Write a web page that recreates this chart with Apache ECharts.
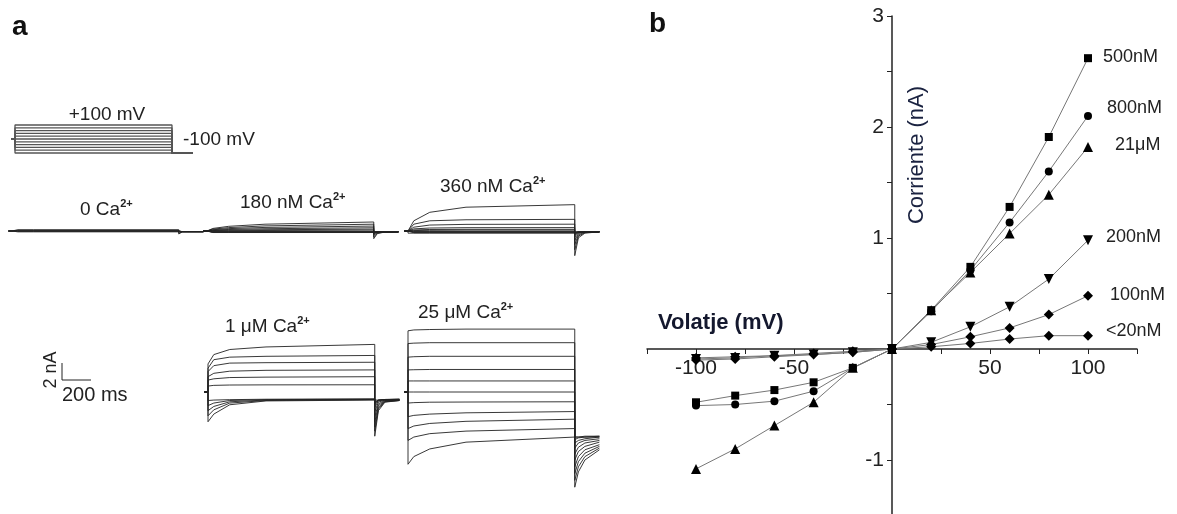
<!DOCTYPE html>
<html>
<head>
<meta charset="utf-8">
<script src="https://cdn.jsdelivr.net/npm/echarts@6/dist/echarts.min.js"></script>
<style>
html,body{margin:0;padding:0;background:#fff;}
#chart{width:1177px;height:514px;}
</style>
</head>
<body>
<div id="chart"></div>
<script>
// panel b : I-V curves
var voltages = [-100, -80, -60, -40, -20, 0, 20, 40, 60, 80, 100];
var i500n = [-0.48, -0.42, -0.37, -0.30, -0.17, 0, 0.35, 0.74, 1.28, 1.91, 2.62];
var i800n = [-0.51, -0.50, -0.47, -0.38, -0.17, 0, 0.34, 0.71, 1.14, 1.60, 2.10];
var i21u = [-1.08, -0.90, -0.69, -0.48, -0.17, 0, 0.35, 0.69, 1.04, 1.39, 1.82];
var i200n = [-0.09, -0.08, -0.06, -0.05, -0.03, 0, 0.06, 0.20, 0.38, 0.63, 0.98];
var i100n = [-0.10, -0.09, -0.07, -0.05, -0.03, 0, 0.04, 0.11, 0.19, 0.31, 0.48];
var i20n = [-0.08, -0.07, -0.06, -0.04, -0.02, 0, 0.02, 0.05, 0.09, 0.12, 0.12];
var xLabels = [-100, -50, 50, 100];
var yLabels = [-1, 1, 2, 3];

// panel a : current traces (nA), sampled at pulseTimes then tailTimes (ms)
var pulseTimes = [0, 40, 150, 400, 1150];
var tailTimes = [1150, 1175, 1220, 1320];
var protocolV = [100, 80, 60, 40, 20, 0, -20, -40, -60, -80, -100];
var ca0 = [
	[0.15, 0.15, 0.15, 0.15, 0.15, -0.35, -0.1, -0.1, -0.1],
	[0.08, 0.08, 0.08, 0.08, 0.08, -0.25, -0.1, -0.1, -0.1],
	[0.03, 0.03, 0.03, 0.03, 0.03, -0.2, -0.08, -0.08, -0.08],
	[0, 0, 0, 0, 0, -0.15, -0.08, -0.08, -0.08],
	[-0.05, -0.05, -0.05, -0.05, -0.05, -0.12, -0.08, -0.08, -0.08],
	[-0.1, -0.1, -0.1, -0.1, -0.1, -0.1, -0.08, -0.08, -0.08]
];
var ca180 = [
	[0.1, 0.3, 0.55, 0.8, 1.06, -0.9, -0.3, -0.15, -0.1],
	[0.08, 0.22, 0.4, 0.6, 0.8, -0.7, -0.25, -0.12, -0.1],
	[0.06, 0.15, 0.28, 0.42, 0.58, -0.5, -0.2, -0.1, -0.1],
	[0.04, 0.1, 0.18, 0.27, 0.38, -0.35, -0.15, -0.1, -0.1],
	[0.02, 0.05, 0.1, 0.15, 0.22, -0.25, -0.12, -0.1, -0.1],
	[0, 0.02, 0.04, 0.06, 0.1, -0.2, -0.1, -0.1, -0.1],
	[-0.05, -0.05, -0.05, -0.05, -0.05, -0.15, -0.1, -0.1, -0.1],
	[-0.1, -0.1, -0.1, -0.1, -0.1, -0.12, -0.1, -0.1, -0.1],
	[-0.12, -0.12, -0.12, -0.12, -0.12, -0.12, -0.1, -0.1, -0.1],
	[-0.15, -0.15, -0.15, -0.15, -0.15, -0.12, -0.1, -0.1, -0.1],
	[-0.18, -0.18, -0.18, -0.18, -0.18, -0.12, -0.1, -0.1, -0.1]
];
var ca360 = [
	[0.2, 1.2, 2.2, 2.8, 3.1, -2.9, -0.8, -0.25, -0.1],
	[0.15, 0.8, 1.2, 1.32, 1.37, -2.2, -0.6, -0.2, -0.1],
	[0.1, 0.45, 0.7, 0.78, 0.8, -1.6, -0.45, -0.15, -0.1],
	[0.05, 0.25, 0.35, 0.39, 0.4, -1.1, -0.3, -0.12, -0.1],
	[0.03, 0.12, 0.18, 0.2, 0.2, -0.7, -0.2, -0.1, -0.1],
	[0, 0.05, 0.08, 0.1, 0.1, -0.45, -0.15, -0.1, -0.1],
	[-0.05, -0.05, -0.05, -0.05, -0.05, -0.3, -0.12, -0.1, -0.1],
	[-0.1, -0.1, -0.1, -0.1, -0.1, -0.2, -0.1, -0.1, -0.1],
	[-0.15, -0.15, -0.15, -0.15, -0.15, -0.18, -0.1, -0.1, -0.1],
	[-0.2, -0.2, -0.2, -0.2, -0.2, -0.18, -0.1, -0.1, -0.1],
	[-0.25, -0.25, -0.25, -0.25, -0.25, -0.18, -0.1, -0.1, -0.1]
];
var ca1u = [
	[3.3, 4.4, 5.0, 5.3, 5.6, -5.2, -2.2, -1.2, -1.0],
	[2.8, 3.8, 4.1, 4.2, 4.3, -4.6, -2.0, -1.15, -1.0],
	[2.4, 3.1, 3.4, 3.45, 3.5, -4.1, -1.8, -1.1, -1.0],
	[1.8, 2.2, 2.45, 2.55, 2.6, -3.5, -1.6, -1.05, -0.95],
	[1.4, 1.55, 1.7, 1.75, 1.8, -2.9, -1.4, -1.0, -0.95],
	[0.7, 0.78, 0.82, 0.84, 0.85, -2.3, -1.2, -0.95, -0.9],
	[-1.0, -0.95, -0.9, -0.85, -0.8, -1.8, -1.05, -0.9, -0.9],
	[-1.6, -1.3, -1.0, -0.9, -0.85, -1.5, -1.0, -0.9, -0.85],
	[-2.2, -1.7, -1.15, -0.95, -0.88, -1.3, -0.95, -0.88, -0.85],
	[-2.8, -2.1, -1.3, -1.0, -0.9, -1.2, -0.95, -0.88, -0.85],
	[-3.5, -2.6, -1.5, -1.05, -0.95, -1.1, -0.95, -0.9, -0.9]
];
var ca25u = [
	[7.2, 7.3, 7.35, 7.4, 7.4, -11.2, -9.4, -8.0, -6.8],
	[5.7, 5.75, 5.8, 5.8, 5.8, -10.4, -8.8, -7.6, -6.6],
	[4.1, 4.15, 4.2, 4.2, 4.2, -9.6, -8.2, -7.2, -6.4],
	[2.6, 2.62, 2.65, 2.65, 2.65, -8.8, -7.6, -6.8, -6.2],
	[1.3, 1.3, 1.3, 1.3, 1.3, -8.0, -7.0, -6.4, -5.9],
	[0, 0, 0, 0, 0, -7.3, -6.5, -6.0, -5.7],
	[-1.3, -1.25, -1.2, -1.18, -1.15, -6.6, -6.0, -5.7, -5.5],
	[-2.9, -2.75, -2.6, -2.45, -2.3, -6.0, -5.7, -5.5, -5.3],
	[-4.3, -4.0, -3.7, -3.45, -3.2, -5.6, -5.4, -5.3, -5.2],
	[-5.7, -5.3, -4.9, -4.6, -4.3, -5.3, -5.3, -5.2, -5.2],
	[-8.5, -7.6, -6.7, -5.9, -5.3, -5.3, -5.3, -5.3, -5.3]
];

var FONT = "'Liberation Sans', Arial, sans-serif";
var PXMS = 0.145, PXNA = 8.5;
var mychart = echarts.init(document.getElementById('chart'), null, {renderer: 'canvas'});

// I-V plot: axes cross at (0,0), moved there by offset
var ivGrid = {left: 647, top: 16, width: 490, height: 499.5, outerBoundsMode: 'none', containLabel: false};
var zeroX = ivGrid.left + 125 / 250 * ivGrid.width;
var zeroY = ivGrid.top + 3 / 4.5 * ivGrid.height;
var grids = [ivGrid];
var xAxes = [{
	type: 'value', gridIndex: 0, min: -125, max: 125, interval: 25, position: 'bottom',
	offset: -(ivGrid.top + ivGrid.height - zeroY),
	axisLine: {onZero: false, lineStyle: {color: '#222', width: 1.5}},
	axisTick: {length: 5, lineStyle: {color: '#222'}},
	axisLabel: {customValues: xLabels, fontSize: 21, color: '#222', fontFamily: FONT, margin: 9},
	splitLine: {show: false}
}];
var yAxes = [{
	type: 'value', gridIndex: 0, min: -1.5, max: 3, interval: 0.5, position: 'left',
	offset: -(zeroX - ivGrid.left),
	axisLine: {show: true, onZero: false, lineStyle: {color: '#222', width: 1.5}},
	axisTick: {show: true, length: 5, lineStyle: {color: '#222'}},
	axisLabel: {customValues: yLabels, fontSize: 21, color: '#222', fontFamily: FONT, margin: 8},
	splitLine: {show: false}
}];
var series = [];

function ivSeries(name, vals, symbol, size, rot, off) {
	series.push({
		name: name, type: 'line', xAxisIndex: 0, yAxisIndex: 0,
		data: voltages.map(function (v, i) { return [v, vals[i]]; }),
		symbol: symbol, symbolSize: size, symbolRotate: rot,
		itemStyle: {color: '#000'},
		lineStyle: {color: '#777', width: 1},
		endLabel: {show: true, formatter: name, offset: off, fontSize: 18, color: '#222', fontFamily: FONT},
		z: 5
	});
}
ivSeries('<20nM', i20n, 'diamond', 10, 0, [10, -5]);
ivSeries('100nM', i100n, 'diamond', 10, 0, [14, -1]);
ivSeries('200nM', i200n, 'triangle', 10, 180, [10, -3]);
ivSeries('21μM', i21u, 'triangle', 10, 0, [19, -2]);
ivSeries('800nM', i800n, 'circle', 8, 0, [11, -8]);
ivSeries('500nM', i500n, 'rect', 8, 0, [7, -1]);

function hiddenAxes(xmin, xmax, ymin, ymax) {
	var gi = grids.length - 1;
	xAxes.push({type: 'value', gridIndex: gi, min: xmin, max: xmax, show: false});
	yAxes.push({type: 'value', gridIndex: gi, min: ymin, max: ymax, show: false});
	return gi;
}

// voltage protocol
grids.push({left: 15 - 25 * 0.1365, top: 123.6, width: 1325 * 0.1365, height: 30.8, outerBoundsMode: 'none'});
var gp = hiddenAxes(-25, 1300, -110, 110);
protocolV.forEach(function (v) {
	series.push({
		type: 'line', xAxisIndex: gp, yAxisIndex: gp, symbol: 'none', silent: true,
		lineStyle: {color: '#555', width: 1.3},
		data: [[-25, 0], [0, 0], [0, v], [1150, v], [1150, -100], [1300, -100]]
	});
});

// current families
function traceData(row) {
	var pts = [[-25, 0], [0, 0]];
	pulseTimes.forEach(function (t, k) { pts.push([t, row[k]]); });
	tailTimes.forEach(function (t, k) { pts.push([t, row[pulseTimes.length + k]]); });
	return pts;
}
function family(rows, x0, y0) {
	grids.push({left: x0 - 25 * PXMS, top: y0 - 9 * PXNA, width: 1345 * PXMS, height: 21 * PXNA, outerBoundsMode: 'none'});
	var gi = hiddenAxes(-25, 1320, -12, 9);
	rows.forEach(function (row) {
		series.push({
			type: 'line', xAxisIndex: gi, yAxisIndex: gi, symbol: 'none', silent: true,
			lineStyle: {color: '#222', width: 0.9},
			data: traceData(row)
		});
	});
}
family(ca0, 12, 231);
family(ca180, 207, 231);
family(ca360, 408, 231);
family(ca1u, 208, 392);
family(ca25u, 408, 392);

// scale bar 2 nA / 200 ms
grids.push({left: 62, top: 363, width: 200 * PXMS, height: 2 * PXNA, outerBoundsMode: 'none'});
var gs = hiddenAxes(0, 200, 0, 2);
series.push({
	type: 'line', xAxisIndex: gs, yAxisIndex: gs, symbol: 'none', silent: true, clip: false,
	lineStyle: {color: '#222', width: 1},
	data: [[0, 2], [0, 0], [200, 0]]
});

function txt(s, x, y, size, opt) {
	opt = opt || {};
	return {
		type: 'text', x: x, y: y, rotation: opt.rot || 0, z: 10,
		style: {
			text: s, fill: opt.color || '#222', font: (opt.bold ? 'bold ' : '') + size + 'px ' + FONT,
			align: opt.align || 'left', verticalAlign: 'middle'
		}
	};
}
function caTxt(s, x, y) {
	return {
		type: 'text', x: x, y: y, z: 10,
		style: {
			text: '{n|' + s + '}{s|2+}', align: 'left', verticalAlign: 'middle',
			rich: {
				n: {fontSize: 19, fontFamily: FONT, fill: '#222', lineHeight: 24},
				s: {fontSize: 11, fontFamily: FONT, fontWeight: 'bold', fill: '#222', lineHeight: 24, verticalAlign: 'top'}
			}
		}
	};
}

var option = {
	animation: false,
	backgroundColor: '#fff',
	grid: grids,
	xAxis: xAxes,
	yAxis: yAxes,
	series: series,
	graphic: [
		txt('a', 12, 27, 28, {bold: true, color: '#111'}),
		txt('b', 649, 24, 28, {bold: true, color: '#111'}),
		txt('+100 mV', 107, 115, 19, {align: 'center'}),
		txt('-100 mV', 183, 140, 19),
		caTxt('0 Ca', 80, 210),
		caTxt('180 nM Ca', 240, 203),
		caTxt('360 nM Ca', 440, 187),
		caTxt('1 μM Ca', 225, 327),
		caTxt('25 μM Ca', 418, 313),
		txt('2 nA', 51, 370, 18, {rot: Math.PI / 2, align: 'center'}),
		txt('200 ms', 62, 395, 20),
		txt('Volatje (mV)', 658, 323, 22, {bold: true, color: '#14182e'}),
		txt('Corriente (nA)', 917, 155, 22, {rot: Math.PI / 2, align: 'center', color: '#1a2240'})
	]
};
mychart.setOption(option);
</script>
</body>
</html>
